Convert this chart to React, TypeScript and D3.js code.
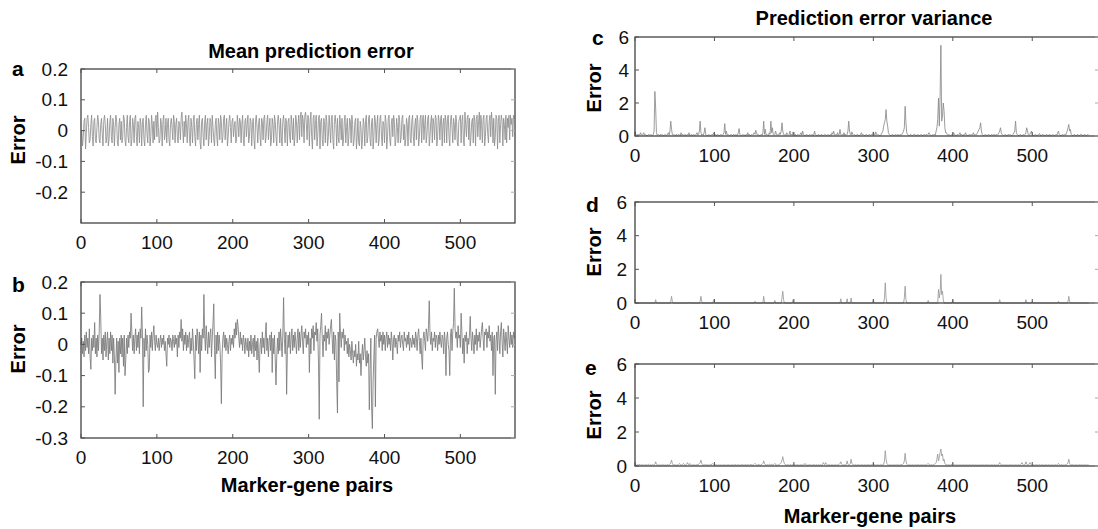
import React from "react";
import * as d3 from "d3";

// ---------- tick labels ----------
const pairTicks = [0, 100, 200, 300, 400, 500];
const errorTicksA = [0.2, 0.1, 0, -0.1, -0.2];
const errorTicksB = [0.2, 0.1, 0, -0.1, -0.2, -0.3];
const varianceTicks = [0, 2, 4, 6];

// ---------- panel a: mean prediction error ----------
const meanErrorA = [
  0.00,0.00,-0.05,-0.02,0.03,0.04,-0.06,-0.01,0.04,0.05,0.01,-0.04,-0.03,0.02,0.05,-0.02,-0.05,0.03,0.04,-0.03,
  -0.04,0.01,0.05,0.03,-0.03,-0.04,0.02,0.04,-0.01,-0.05,0.03,0.05,0.02,-0.04,-0.02,0.04,-0.05,-0.03,0.03,0.05,
  -0.02,-0.04,0.04,0.02,-0.05,0.01,0.05,0.03,-0.04,-0.05,0.02,0.04,-0.03,0.03,-0.04,-0.02,0.05,0.04,-0.03,-0.05,
  0.01,0.05,-0.02,-0.04,0.03,0.05,-0.05,-0.03,0.04,0.02,-0.04,0.04,0.05,-0.02,-0.05,0.03,0.01,-0.04,0.04,0.02,
  -0.05,0.03,0.04,-0.03,-0.05,0.02,0.05,-0.01,-0.04,0.04,0.03,-0.05,-0.02,0.05,0.02,-0.04,0.03,-0.03,0.04,0.05,
  -0.02,0.06,0.01,-0.04,-0.03,0.04,0.02,-0.05,0.03,0.05,-0.03,-0.01,0.04,-0.04,0.02,0.04,-0.03,-0.05,0.02,0.04,
  0.01,-0.03,0.05,0.03,-0.04,0.02,0.04,-0.02,-0.04,0.03,0.02,-0.03,0.04,0.06,0.01,-0.04,0.03,-0.02,0.05,0.02,
  -0.04,0.03,0.05,-0.03,-0.05,0.04,0.01,-0.04,0.03,0.05,-0.02,-0.05,0.02,0.04,-0.03,0.02,0.05,-0.04,-0.06,0.03,
  0.04,-0.02,-0.05,0.03,0.05,-0.03,0.02,0.04,-0.05,-0.02,0.04,0.03,-0.04,0.05,0.01,-0.03,-0.05,0.02,0.04,-0.02,
  -0.05,0.04,0.02,-0.03,0.05,0.03,-0.04,-0.02,0.04,0.05,-0.03,0.01,0.04,-0.05,-0.02,0.03,0.05,0.01,-0.04,0.03,
  0.04,-0.02,0.01,0.03,-0.04,-0.03,0.05,0.02,-0.02,0.04,0.03,-0.04,0.02,0.05,-0.03,-0.05,0.03,0.04,-0.02,0.02,
  0.05,-0.04,-0.02,0.04,0.03,-0.05,0.02,0.04,-0.03,-0.06,0.03,0.05,0.01,-0.04,0.02,0.04,-0.02,-0.05,0.04,0.03,
  -0.03,0.04,0.05,-0.04,-0.02,0.03,0.05,-0.03,0.01,0.04,-0.05,-0.03,0.04,0.02,-0.04,0.05,0.03,-0.02,-0.05,0.03,
  0.05,0.02,-0.04,0.04,-0.02,-0.05,0.03,0.05,0.01,-0.04,0.04,0.02,-0.05,0.03,0.04,-0.02,-0.04,0.05,0.02,-0.03,
  0.04,-0.05,-0.02,0.05,0.03,-0.04,0.02,0.05,-0.03,0.04,0.06,-0.02,0.05,0.03,-0.04,0.05,0.06,0.02,-0.03,0.05,
  0.04,-0.05,0.03,0.06,-0.02,-0.06,0.04,0.05,-0.03,0.02,0.05,-0.05,-0.02,0.04,0.05,-0.06,0.03,0.04,-0.03,-0.05,
  0.04,0.02,-0.04,0.05,0.03,-0.05,-0.02,0.05,0.01,-0.04,0.04,0.05,-0.03,-0.06,0.03,0.05,0.02,-0.05,0.04,-0.02,
  -0.04,0.05,0.02,-0.03,0.04,-0.05,-0.03,0.03,0.05,-0.04,0.01,0.04,-0.05,-0.02,0.04,0.03,-0.04,0.05,0.02,-0.05,
  -0.03,0.03,0.04,-0.06,-0.02,0.04,-0.04,-0.05,0.03,0.01,-0.06,-0.03,0.04,0.02,-0.05,0.03,0.05,-0.04,-0.02,0.04,
  0.05,-0.03,-0.05,0.03,0.04,-0.06,-0.02,0.05,0.03,-0.04,0.02,0.05,-0.05,-0.03,0.04,0.05,-0.02,-0.05,0.03,0.02,
  -0.04,0.05,0.03,-0.06,-0.02,0.04,0.05,-0.03,-0.05,0.02,0.04,-0.02,0.05,0.03,-0.05,-0.03,0.04,0.01,-0.04,0.05,
  0.03,-0.04,-0.02,0.04,0.05,-0.03,0.02,-0.05,-0.03,0.04,0.02,-0.05,0.04,0.05,-0.03,-0.04,0.03,0.05,-0.02,-0.05,
  0.02,0.04,-0.03,0.05,0.03,-0.05,-0.02,0.04,0.05,-0.04,0.03,0.05,-0.03,0.02,0.05,-0.04,-0.01,0.04,0.05,-0.05,
  -0.02,0.03,0.05,-0.04,0.04,0.02,-0.03,0.05,0.04,-0.05,-0.02,0.05,0.03,-0.03,0.04,0.05,-0.05,0.02,0.04,-0.04,
  0.05,0.03,-0.04,0.04,0.05,-0.02,-0.05,0.03,0.05,0.01,-0.04,0.04,0.02,-0.03,0.05,0.03,-0.04,-0.05,0.03,0.04,
  0.05,-0.04,0.03,0.05,-0.03,-0.05,0.06,0.02,-0.02,0.04,0.05,-0.03,0.04,-0.05,-0.02,0.03,0.04,-0.04,0.05,0.03,
  -0.05,0.04,0.05,-0.02,0.03,0.06,-0.03,0.05,0.02,-0.04,0.04,0.05,-0.05,-0.02,0.04,0.05,-0.01,-0.04,0.03,0.05,
  -0.02,0.06,0.03,-0.04,0.04,-0.05,-0.02,0.05,0.04,-0.06,0.03,0.05,-0.04,0.02,0.05,0.03,-0.05,0.04,0.02,-0.03,
  0.05,-0.04,0.04,0.01,0.05,-0.03,0.05,0.02,0.04,-0.02,0.05,0.04,
];

// ---------- panel b: mean prediction error ----------
const meanErrorB = [
  0.00,0.02,-0.03,0.01,-0.04,0.03,-0.02,0.04,-0.01,0.02,-0.03,0.05,-0.04,-0.08,0.02,-0.02,0.03,-0.01,0.07,-0.03,
  0.02,-0.04,0.03,-0.02,0.04,0.16,0.09,-0.03,0.02,-0.05,0.03,-0.02,0.04,-0.04,0.01,0.04,-0.05,0.02,-0.03,0.04,
  -0.02,0.03,-0.06,0.02,-0.04,-0.16,-0.05,0.02,-0.06,0.01,-0.09,0.02,-0.03,0.03,-0.04,0.02,-0.07,0.03,-0.10,-0.05,
  0.02,-0.03,0.03,-0.01,0.04,0.02,0.10,0.04,-0.02,0.03,-0.03,0.02,0.05,-0.02,0.03,-0.01,0.04,-0.03,0.05,0.02,
  0.12,0.03,-0.20,0.02,-0.04,0.05,-0.02,0.03,0.00,-0.09,-0.08,0.03,-0.01,0.04,-0.02,0.03,0.06,0.01,-0.02,0.03,
  0.00,-0.01,0.02,-0.02,0.01,0.03,-0.01,0.02,0.00,0.03,-0.02,0.01,-0.03,-0.07,0.02,0.00,0.03,-0.01,0.02,0.01,
  -0.02,0.03,0.01,-0.01,0.03,0.00,0.02,-0.04,0.03,-0.01,0.04,0.02,0.08,0.01,0.05,-0.02,0.03,0.00,0.04,-0.02,
  0.03,-0.01,0.02,0.04,-0.03,0.02,-0.02,0.05,0.01,-0.05,-0.11,0.03,-0.02,0.05,0.02,-0.03,0.04,-0.09,0.03,-0.02,
  0.05,0.02,0.16,0.03,-0.02,0.06,0.01,-0.03,0.04,-0.01,0.03,0.05,-0.04,0.02,0.07,0.13,-0.02,-0.11,0.03,-0.03,
  0.04,-0.02,0.03,0.00,-0.06,-0.19,-0.03,0.02,0.04,-0.01,0.03,-0.02,0.02,0.00,-0.03,0.01,0.03,-0.02,0.02,0.00,
  0.03,-0.01,0.05,0.02,0.07,0.03,0.08,0.06,0.02,-0.01,0.04,0.00,0.02,-0.02,0.03,0.01,-0.03,0.02,0.00,-0.02,
  0.02,-0.04,0.01,-0.02,0.03,-0.03,0.00,0.02,-0.04,0.03,-0.02,0.01,-0.05,0.02,-0.03,-0.09,0.00,0.02,-0.03,0.04,
  -0.01,0.02,-0.03,0.03,0.07,-0.02,0.02,-0.04,0.01,0.03,-0.02,0.04,-0.09,0.02,-0.03,0.03,-0.05,-0.13,-0.04,0.02,
  -0.03,0.04,-0.02,0.05,0.01,-0.04,0.03,0.15,0.02,-0.03,0.04,-0.16,-0.02,0.03,-0.01,0.04,-0.03,0.02,0.05,-0.02,
  0.03,-0.01,0.04,0.01,-0.03,0.02,0.05,-0.02,0.04,-0.01,0.03,0.06,0.01,-0.03,0.04,0.02,0.05,-0.01,0.03,0.00,
  0.04,-0.09,0.02,-0.03,0.05,0.02,0.06,-0.02,0.04,0.03,0.07,0.01,0.05,-0.06,-0.24,0.03,0.06,0.10,0.02,-0.04,
  0.03,0.01,0.06,-0.02,0.04,0.02,0.05,0.00,0.03,0.06,0.08,0.02,-0.03,0.04,-0.05,0.03,0.01,-0.12,-0.22,0.04,
  -0.12,0.10,0.03,-0.01,0.04,0.02,0.05,-0.02,0.03,0.00,0.01,-0.03,0.02,-0.04,0.00,-0.02,-0.05,0.01,-0.03,-0.06,
  -0.02,-0.04,0.00,-0.07,-0.03,-0.05,0.01,-0.06,-0.03,-0.10,-0.04,0.00,-0.05,-0.02,0.02,-0.04,-0.07,-0.02,-0.06,-0.03,
  -0.21,-0.08,0.02,-0.20,-0.27,-0.12,-0.04,0.03,-0.20,0.02,0.04,0.05,0.02,-0.01,0.04,0.01,0.03,-0.02,0.04,0.00,
  0.03,-0.02,0.02,0.04,-0.01,0.03,0.00,0.02,-0.02,0.04,0.01,-0.05,0.02,0.03,-0.01,0.02,0.00,-0.03,0.03,0.01,
  0.04,-0.01,0.02,0.03,0.00,-0.02,0.04,0.01,0.02,-0.01,0.03,0.00,0.04,-0.02,0.02,0.01,-0.01,0.03,0.00,0.02,
  -0.01,0.04,0.02,-0.02,0.03,0.05,0.01,-0.03,0.02,-0.04,-0.08,0.02,0.04,0.01,-0.02,0.05,0.03,0.01,0.06,0.14,
  0.03,0.00,0.04,-0.02,0.02,0.01,0.04,-0.01,0.03,0.02,-0.02,0.03,0.00,0.04,0.01,-0.01,0.03,0.02,-0.03,0.04,
  0.01,-0.10,0.02,0.04,0.00,-0.02,-0.10,0.03,0.05,-0.02,0.04,0.07,0.18,0.05,0.02,0.04,-0.01,0.06,0.02,0.03,
  -0.01,0.10,0.04,-0.03,0.02,-0.06,0.03,0.01,0.04,-0.03,0.02,0.00,0.03,0.09,0.02,-0.02,0.04,0.01,-0.03,0.03,
  0.00,0.05,-0.02,0.03,0.01,0.04,-0.01,0.02,0.05,0.07,0.02,-0.02,0.04,0.03,0.05,-0.01,0.04,0.02,0.06,0.01,
  0.03,-0.02,0.04,-0.10,0.02,0.03,-0.16,0.01,0.04,-0.02,0.06,0.02,-0.03,0.04,0.07,0.01,-0.04,0.05,0.02,-0.02,
  0.04,0.01,-0.03,0.06,0.02,-0.01,0.04,0.00,0.03,-0.01,0.04,0.02,
];

// ---------- panel c: prediction error variance ----------
const varianceC = [
  .3,.1,.05,.1,.05,.1,.05,.2,.1,.05,.1,.2,.05,.1,.05,0,.05,.1,.05,.05,
  .1,.05,.02,.1,.3,2.7,1.7,.2,.05,.1,.05,.02,.1,.05,.1,.05,.02,.05,.1,.05,
  .05,.1,.2,.05,.3,.9,.4,.1,.05,.1,.05,.02,.1,.05,.05,.1,.05,.02,.2,.05,
  .1,.05,.05,.1,.02,.05,.1,.05,.2,.05,.02,.1,.05,.05,.1,.02,.05,.1,.2,.05,
  .1,.3,.9,.2,.05,.1,.05,.2,.5,.1,.05,.02,.05,.1,.05,.02,.05,.1,.05,.2,
  .05,.1,.02,.05,.1,.05,.02,.05,.1,.05,.05,.1,.2,.75,.1,.3,.05,.1,.05,.02,
  .05,.1,.05,.02,.1,.05,.05,.1,.02,.05,.2,.45,.1,.05,.02,.05,.1,.05,.05,.02,
  .1,.05,.2,.05,.1,.02,.05,.1,.05,.1,.2,.1,.35,.2,.05,.1,.05,.02,.05,.1,
  .05,.2,.9,.1,.4,.05,.1,.05,.02,.2,.1,.9,.2,.5,.1,.05,.1,.3,.1,.05,
  .1,.05,.2,.1,.3,.8,.3,.1,.05,.1,.05,.2,.1,.05,.1,.3,.05,.1,.05,.25,
  .1,.05,.1,.02,.05,.1,.05,.05,.1,.2,.05,.3,.1,.05,.02,.05,.1,.05,.02,.05,
  .1,.05,.05,.1,.02,.05,.3,.1,.05,.02,.05,.1,.05,.05,.02,.1,.05,.02,.05,.1,
  .05,.02,.05,.1,.05,.02,.1,.05,.2,.1,.3,.1,.05,.1,.05,.2,.05,.1,.4,.1,
  .05,.1,.05,.2,.05,.1,.05,.1,.3,.9,.3,.1,.05,.25,.1,.05,.1,.05,.02,.05,
  .1,.05,.02,.05,.1,.2,.05,.1,.05,.02,.05,.1,.05,.02,.05,.1,.05,.05,.1,.05,
  .25,.1,.05,.25,.1,.05,.1,.05,.02,.05,.1,.2,.3,.6,.8,1.0,1.6,.9,.6,.2,
  .1,.05,.02,.05,.1,.05,.02,.05,.1,.05,.05,.1,.02,.05,.1,.05,.1,.2,.3,.5,
  1.8,.8,.2,.1,.05,.02,.05,.1,.05,.02,.05,.1,.1,.05,.02,.05,.1,.05,.02,.05,
  .1,.05,.02,.05,.1,.05,.05,.1,.05,.1,.2,.1,.05,.02,.05,.1,.05,.1,.05,.3,
  .5,1.0,2.3,.6,2.4,5.5,.9,1.2,2.0,1.5,.5,.2,.2,.1,.05,.1,.05,.02,.05,.1,
  .05,.2,.1,.05,.02,.05,.1,.05,.1,.2,.05,.1,.05,.02,.1,.05,.2,.1,.05,.02,
  .05,.1,.05,.1,.05,.1,.2,.05,.1,.05,.1,.2,.3,.4,.5,.8,.3,.1,.05,.02,
  .05,.1,.05,.02,.05,.1,.05,.02,.05,.1,.05,.05,.1,.02,.05,.1,.05,.1,.2,.3,
  .5,.2,.1,.05,.02,.05,.1,.05,.02,.05,.1,.05,.1,.05,.02,.05,.1,.2,.3,.9,
  .2,.1,.05,.02,.05,.1,.05,.02,.05,.1,.05,.1,.2,.5,.3,.1,.05,.1,.2,.3,
  .1,.05,.02,.05,.1,.05,.02,.05,.1,.15,.05,.02,.05,.1,.05,.05,.02,.05,.1,.05,
  .05,.02,.1,.05,.02,.05,.1,.05,.02,.05,.1,.05,.2,.3,.1,.05,.02,.05,.1,.05,
  .05,.1,.05,.2,.3,.5,.7,.3,.4,.1,.05,.02,.05,.1,.05,.02,.05,.1,.05,.02,
  .05,.1,.1,.05,.02,.05,.1,.05,.02,.05,.1,.05,
];

// ---------- panel d: prediction error variance ----------
const varianceD = [
  0,0,0,0,0,0,0,0,0,0,0,0,0,0,0,0,0,0,0,0,
  0,0,0,0,0,0,.2,0,0,0,0,0,0,0,0,0,0,0,0,0,
  0,0,0,0,0,.1,.4,.1,0,0,0,0,0,0,0,0,0,0,0,0,
  0,0,0,0,0,0,0,0,.05,0,0,0,0,0,0,0,0,0,0,0,
  0,0,.1,.4,.1,0,0,0,0,0,0,0,0,0,0,0,0,0,0,.2,
  0,0,0,0,0,0,0,0,0,0,0,0,0,0,0,0,0,0,0,0,
  0,0,0,0,0,0,0,0,0,0,0,0,0,0,0,0,0,0,0,0,
  0,0,0,0,0,0,0,0,0,0,0,.1,0,0,0,0,0,0,0,0,
  0,0,.4,0,0,0,0,0,0,0,0,0,0,0,0,0,.15,0,0,0,
  0,0,0,0,0,.3,.7,.2,0,0,0,0,0,0,0,0,0,0,0,.2,
  0,0,0,0,0,0,0,0,0,0,0,0,0,0,0,0,0,0,0,0,
  0,0,0,0,0,0,0,0,0,0,0,0,0,0,0,0,0,0,0,0,
  0,0,0,0,0,0,0,0,0,0,0,0,0,0,0,0,0,0,0,.25,
  0,0,0,0,0,0,0,.25,0,0,0,0,.3,0,0,0,0,0,0,0,
  0,0,0,0,0,0,0,0,0,0,0,0,0,0,0,0,0,0,0,0,
  .2,0,0,0,0,0,0,0,0,0,0,0,0,0,.3,1.2,.3,0,0,0,
  0,0,0,0,0,0,0,0,0,0,0,0,0,0,0,0,0,0,0,.3,
  1.0,.2,0,0,0,0,0,0,0,0,0,0,0,0,0,0,0,0,0,0,
  0,0,0,0,0,0,0,0,0,.15,0,0,0,0,0,0,0,0,0,0,
  0,0,.8,.3,.6,1.7,.5,.7,.2,0,0,0,0,0,0,0,0,0,0,0,
  .2,0,0,0,0,0,0,0,0,0,0,0,0,0,0,0,0,0,0,0,
  0,0,0,0,0,0,0,0,0,0,0,0,0,0,0,0,0,0,0,0,
  0,0,0,0,0,0,0,0,0,0,0,0,0,0,0,0,0,0,0,.2,
  0,0,0,0,0,0,0,0,0,0,0,0,0,0,0,0,0,0,0,0,
  0,0,0,0,0,0,0,0,0,0,0,0,.2,0,0,0,0,0,0,0,
  .1,0,0,0,0,0,0,0,0,0,0,0,0,0,0,0,0,0,0,0,
  0,0,0,0,0,0,0,0,0,0,0,0,0,.1,0,0,0,0,0,0,
  0,0,0,0,0,.1,.4,.1,0,0,0,0,0,0,0,0,0,0,0,0,
  0,0,0,0,0,0,0,0,0,0,0,0,
];

// ---------- panel e: prediction error variance ----------
const varianceE = [
  .1,.06,.05,.08,.05,.06,.1,.05,.06,.08,.05,.06,.05,.08,.06,.05,.06,.1,.05,.06,
  .05,.06,.08,.05,.06,.1,.25,.1,.06,.05,.08,.06,.05,.06,.05,.08,.06,.05,.06,.05,
  .06,.08,.05,.06,.1,.2,.35,.15,.06,.05,.08,.06,.05,.06,.05,.1,.15,.08,.06,.05,
  .1,.15,.08,.05,.06,.1,.2,.1,.06,.15,.08,.05,.06,.05,.08,.06,.05,.06,.1,.06,
  .08,.15,.2,.35,.15,.08,.06,.05,.1,.06,.05,.08,.06,.05,.06,.1,.08,.1,.15,.08,
  .06,.05,.08,.06,.05,.06,.05,.08,.06,.05,.06,.05,.08,.06,.05,.06,.05,.08,.06,.05,
  .05,.06,.08,.05,.06,.05,.1,.06,.05,.08,.06,.05,.06,.05,.08,.1,.06,.05,.06,.08,
  .06,.05,.08,.06,.05,.1,.06,.08,.05,.06,.1,.15,.1,.06,.05,.08,.1,.06,.05,.08,
  .1,.15,.3,.15,.08,.06,.05,.08,.06,.1,.08,.06,.1,.08,.06,.1,.15,.08,.06,.05,
  .06,.08,.1,.15,.2,.35,.55,.3,.15,.08,.06,.05,.08,.06,.05,.06,.08,.05,.06,.1,
  .08,.06,.05,.06,.08,.05,.06,.05,.08,.06,.05,.06,.1,.08,.15,.08,.06,.05,.06,.05,
  .08,.06,.05,.06,.05,.08,.06,.05,.06,.08,.05,.06,.05,.08,.06,.05,.08,.2,.1,.08,
  .2,.1,.06,.05,.08,.06,.05,.06,.08,.05,.06,.05,.08,.06,.05,.06,.08,.1,.15,.25,
  .1,.06,.05,.08,.06,.05,.1,.3,.1,.06,.08,.15,.4,.15,.08,.06,.05,.08,.06,.05,
  .06,.08,.05,.06,.05,.08,.06,.05,.06,.08,.05,.06,.05,.08,.06,.05,.06,.08,.05,.1,
  .15,.08,.06,.05,.06,.08,.05,.06,.05,.08,.06,.05,.08,.1,.3,.9,.4,.15,.08,.06,
  .05,.06,.08,.05,.06,.05,.08,.06,.05,.06,.08,.05,.06,.05,.08,.06,.08,.1,.15,.3,
  .75,.3,.1,.06,.05,.08,.06,.05,.06,.08,.05,.06,.05,.08,.06,.05,.06,.08,.05,.06,
  .05,.08,.06,.05,.06,.08,.05,.06,.1,.15,.08,.06,.05,.08,.06,.05,.08,.1,.15,.2,
  .4,.7,.3,.5,.8,1.0,.6,.7,.3,.4,.15,.08,.06,.05,.08,.06,.05,.06,.08,.1,
  .15,.08,.06,.05,.06,.08,.05,.06,.05,.08,.06,.05,.06,.08,.05,.06,.05,.08,.06,.05,
  .06,.08,.05,.06,.05,.08,.06,.05,.06,.08,.05,.06,.05,.08,.06,.05,.06,.08,.05,.06,
  .05,.08,.06,.05,.06,.08,.05,.06,.05,.08,.06,.05,.06,.08,.05,.06,.05,.08,.1,.2,
  .1,.06,.05,.08,.06,.05,.06,.08,.05,.06,.05,.08,.06,.05,.06,.08,.05,.06,.05,.08,
  .06,.05,.06,.08,.05,.06,.1,.2,.1,.06,.08,.1,.25,.1,.08,.06,.1,.2,.1,.06,
  .05,.08,.06,.05,.06,.08,.05,.06,.05,.08,.06,.05,.06,.08,.05,.06,.05,.08,.06,.05,
  .06,.08,.05,.06,.05,.08,.06,.05,.06,.08,.05,.06,.1,.15,.08,.06,.05,.08,.06,.05,
  .06,.05,.08,.06,.1,.2,.4,.15,.08,.06,.05,.08,.06,.05,.06,.08,.05,.06,.05,.08,
  .06,.05,.08,.06,.05,.06,.08,.05,.06,.05,.08,.06,
];

const FONT = "'Liberation Sans', Arial, Helvetica, sans-serif";

type PanelProps = {
  data: number[];
  left: number;
  right: number;
  top: number;
  bottom: number;
  xMax: number;
  yDomain: [number, number];
  yTicks: number[];
  yLabelEnd: number;
  lineColor: string;
};

function Panel(p: PanelProps) {
  const x = d3.scaleLinear().domain([0, p.xMax]).range([p.left, p.right]);
  const y = d3.scaleLinear().domain(p.yDomain).range([p.bottom, p.top]);
  const line = d3
    .line<number>()
    .x((_, i) => x(i))
    .y((d) => y(d));
  const tickLen = 4;
  const tickColor = "#555";
  return (
    <g>
      <path d={line(p.data) || ""} fill="none" stroke={p.lineColor} strokeWidth={0.85} />
      <rect
        x={p.left}
        y={p.top}
        width={p.right - p.left}
        height={p.bottom - p.top}
        fill="none"
        stroke="#333"
        strokeWidth={1.2}
      />
      {pairTicks.map((t) => (
        <g key={"xt" + t}>
          <line x1={x(t)} x2={x(t)} y1={p.bottom} y2={p.bottom - tickLen} stroke={tickColor} />
          <line x1={x(t)} x2={x(t)} y1={p.top} y2={p.top + tickLen} stroke={tickColor} />
          <text
            x={x(t)}
            y={p.bottom + 26}
            textAnchor="middle"
            fontSize={19}
            fontFamily={FONT}
            fill="#111"
          >
            {t}
          </text>
        </g>
      ))}
      {p.yTicks.map((t) => (
        <g key={"yt" + t}>
          <line x1={p.left} x2={p.left + tickLen} y1={y(t)} y2={y(t)} stroke={tickColor} />
          <line x1={p.right - tickLen} x2={p.right} y1={y(t)} y2={y(t)} stroke="#aaa" />
          <text
            x={p.yLabelEnd}
            y={y(t)}
            dy="0.35em"
            textAnchor="end"
            fontSize={19}
            fontFamily={FONT}
            fill="#111"
          >
            {String(t)}
          </text>
        </g>
      ))}
    </g>
  );
}

function Label(props: { x: number; y: number; text: string; size?: number; anchor?: string; rotate?: boolean }) {
  const { x, y, text, size = 20, anchor = "start", rotate = false } = props;
  return (
    <text
      x={x}
      y={y}
      textAnchor={anchor as any}
      fontSize={size}
      fontWeight="bold"
      fontFamily={FONT}
      fill="#000"
      transform={rotate ? `rotate(-90 ${x} ${y})` : undefined}
    >
      {text}
    </text>
  );
}

export default function App() {
  const LX0 = 81;
  const LX1 = 515;
  const RX0 = 635;
  const RX1 = 1099;
  return (
    <svg
      width={1098}
      height={529}
      style={{ position: "absolute", left: 0, top: 0, background: "#fff" }}
    >
      <rect x={0} y={0} width={1098} height={529} fill="#fff" />
      {/* left column */}
      <Label x={311} y={58} text="Mean prediction error" anchor="middle" />
      <Label x={12} y={76} text="a" size={21} />
      <Label x={25} y={140} text="Error" anchor="middle" rotate />
      <Panel
        data={meanErrorA}
        left={LX0}
        right={LX1}
        top={69}
        bottom={223}
        xMax={572}
        yDomain={[-0.3, 0.2]}
        yTicks={errorTicksA}
        yLabelEnd={68}
        lineColor="#8f8f8f"
      />
      <Label x={12} y={292} text="b" size={21} />
      <Label x={25} y={349} text="Error" anchor="middle" rotate />
      <Panel
        data={meanErrorB}
        left={LX0}
        right={LX1}
        top={282}
        bottom={438}
        xMax={572}
        yDomain={[-0.3, 0.2]}
        yTicks={errorTicksB}
        yLabelEnd={68}
        lineColor="#7a7a7a"
      />
      <Label x={307} y={492} text="Marker-gene pairs" anchor="middle" />

      {/* right column */}
      <Label x={874} y={25} text="Prediction error variance" anchor="middle" />
      <Label x={592} y={45} text="c" size={21} />
      <Label x={601} y={88} text="Error" anchor="middle" rotate />
      <Panel
        data={varianceC}
        left={RX0}
        right={RX1}
        top={37}
        bottom={136}
        xMax={584}
        yDomain={[0, 6]}
        yTicks={varianceTicks}
        yLabelEnd={629}
        lineColor="#8a8a8a"
      />
      <Label x={586} y={212} text="d" size={21} />
      <Label x={601} y={252} text="Error" anchor="middle" rotate />
      <Panel
        data={varianceD}
        left={RX0}
        right={RX1}
        top={202}
        bottom={303}
        xMax={584}
        yDomain={[0, 6]}
        yTicks={varianceTicks}
        yLabelEnd={627}
        lineColor="#9a9a9a"
      />
      <Label x={585} y={375} text="e" size={21} />
      <Label x={601} y={415} text="Error" anchor="middle" rotate />
      <Panel
        data={varianceE}
        left={RX0}
        right={RX1}
        top={364}
        bottom={466}
        xMax={584}
        yDomain={[0, 6]}
        yTicks={varianceTicks}
        yLabelEnd={627}
        lineColor="#9a9a9a"
      />
      <Label x={870} y={523} text="Marker-gene pairs" anchor="middle" />
    </svg>
  );
}
